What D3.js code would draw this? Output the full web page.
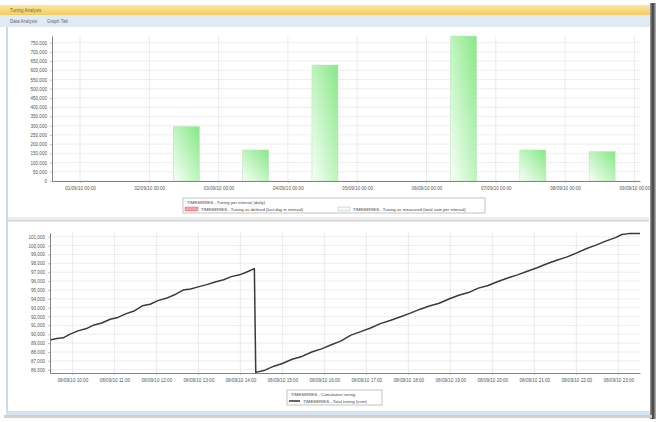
<!DOCTYPE html>
<html>
<head>
<meta charset="utf-8">
<script src="https://cdn.jsdelivr.net/npm/d3@7"></script>
<style>
  body { margin: 0; background: #fff; }
  text { font-family: "Liberation Sans", Arial, sans-serif; }
</style>
</head>
<body>
<div id="chart"></div>
<script>
// ---- top chart: totals per day ----
const barDays = ['2010-09-02', '2010-09-03', '2010-09-04', '2010-09-06', '2010-09-07', '2010-09-08']
const barValues = [295000, 168000, 629000, 786000, 168000, 159000]
const barTickDays = ['2010-09-01', '2010-09-02', '2010-09-03', '2010-09-04', '2010-09-05',
  '2010-09-06', '2010-09-07', '2010-09-08', '2010-09-09']
const barYTicks = [0, 50000, 100000, 150000, 200000, 250000, 300000, 350000, 400000,
  450000, 500000, 550000, 600000, 650000, 700000, 750000]
const barTimeRange = ['2010-08-31T14:18', '2010-09-09T01:57']
const barYMax = 786300

// ---- bottom chart: running counter ----
const lineTimes = ['09:28', '09:38', '09:47', '09:56', '10:08', '10:20', '10:31', '10:42', '10:54', '11:05',
  '11:17', '11:28', '11:40', '11:51', '12:03', '12:14', '12:26', '12:38', '12:49', '13:01',
  '13:12', '13:24', '13:36', '13:47', '13:59', '14:10', '14:20', '14:22', '14:35', '14:48',
  '15:00', '15:14', '15:28', '15:42', '15:56', '16:10', '16:24', '16:38', '16:52', '17:06',
  '17:20', '17:34', '17:48', '18:02', '18:16', '18:30', '18:44', '18:58', '19:12', '19:26',
  '19:40', '19:54', '20:08', '20:22', '20:36', '20:50', '21:04', '21:18', '21:32', '21:46',
  '22:00', '22:14', '22:28', '22:42', '22:56', '23:05', '23:15', '23:31']
const lineValues = [89350, 89520, 89600, 89980, 90380, 90640, 91050, 91270, 91690, 91900,
  92330, 92620, 93210, 93390, 93820, 94050, 94450, 94980, 95100, 95370,
  95600, 95900, 96150, 96500, 96700, 97050, 97400, 85700, 85950, 86400,
  86700, 87180, 87500, 88000, 88350, 88820, 89250, 89900, 90300, 90700,
  91200, 91550, 91950, 92350, 92800, 93180, 93500, 93980, 94400, 94700,
  95200, 95500, 95950, 96350, 96700, 97100, 97500, 97950, 98350, 98700,
  99150, 99650, 100050, 100500, 100900, 101250, 101350, 101350]
const lineDay = '2010-09-08'
const lineTickTimes = ['10:00', '11:00', '12:00', '13:00', '14:00', '15:00', '16:00',
  '17:00', '18:00', '19:00', '20:00', '21:00', '22:00', '23:00']
const lineYTicks = [86000, 87000, 88000, 89000, 90000, 91000, 92000, 93000, 94000,
  95000, 96000, 97000, 98000, 99000, 100000, 101000]
const lineTimeRange = ['09:28', '23:31']
const lineYRange = [85630, 101420]

const W = 656, H = 422
const fmtDate = d3.timeFormat('%d/%m/%y %H:%M')
const fmtNum = d3.format(',')

const svg = d3.select('#chart').append('svg')
  .attr('width', W).attr('height', H)

const defs = svg.append('defs')
const gBar = defs.append('linearGradient').attr('id', 'barFill')
  .attr('x1', 1).attr('y1', 0).attr('x2', 0).attr('y2', 1)
gBar.append('stop').attr('offset', 0).attr('stop-color', '#86e886')
gBar.append('stop').attr('offset', 0.55).attr('stop-color', '#c4f5c4')
gBar.append('stop').attr('offset', 1).attr('stop-color', '#f6fff6')

const gTitle = defs.append('linearGradient').attr('id', 'titleFill')
  .attr('x1', 0).attr('y1', 0).attr('x2', 0).attr('y2', 1)
gTitle.append('stop').attr('offset', 0).attr('stop-color', '#fbe7a4')
gTitle.append('stop').attr('offset', 1).attr('stop-color', '#f2cd5c')

const gShadow = defs.append('linearGradient').attr('id', 'shadowR')
gShadow.append('stop').attr('offset', 0).attr('stop-color', '#9a9a9a')
gShadow.append('stop').attr('offset', 0.5).attr('stop-color', '#3a3a3a')
gShadow.append('stop').attr('offset', 1).attr('stop-color', '#bdbdbd')

// window frame
svg.append('rect').attr('width', W).attr('height', H).attr('fill', '#fff')
svg.append('rect').attr('x', 0).attr('y', 5).attr('width', 651).attr('height', 10).attr('fill', 'url(#titleFill)')
svg.append('text').attr('x', 10).attr('y', 12).attr('font-size', 4.5).attr('fill', '#7a6a3a').text('Tuning Analysis')
svg.append('rect').attr('x', 0).attr('y', 15).attr('width', 651).attr('height', 12).attr('fill', '#dfeaf2')
svg.append('text').attr('x', 10).attr('y', 23).attr('font-size', 4.5).attr('fill', '#667').text('Data Analysis')
svg.append('text').attr('x', 47).attr('y', 23).attr('font-size', 4.5).attr('fill', '#667').text('Graph   Tab')
svg.append('rect').attr('x', 6).attr('y', 27).attr('width', 2).attr('height', 386).attr('fill', '#c9dbe8')
svg.append('rect').attr('x', 6).attr('y', 411).attr('width', 645).attr('height', 4).attr('fill', '#d6e4ef')
svg.append('rect').attr('x', 8).attr('y', 217).attr('width', 641).attr('height', 4).attr('fill', '#ececec')
svg.append('line').attr('x1', 8).attr('x2', 649).attr('y1', 221).attr('y2', 221).attr('stroke', '#b5b5b5').attr('stroke-width', 0.7)
svg.append('rect').attr('x', 650).attr('y', 3).attr('width', 6).attr('height', 416).attr('fill', 'url(#shadowR)')
svg.append('rect').attr('x', 4).attr('y', 415).attr('width', 648).attr('height', 3).attr('fill', '#cfcfcf')

function drawGrid(g, x, y, xTicks, yTicks, box) {
  g.append('g').selectAll('line.h').data(yTicks).enter().append('line')
    .attr('x1', box.left).attr('x2', box.right)
    .attr('y1', d => y(d)).attr('y2', d => y(d))
    .attr('stroke', '#e2e2e2').attr('stroke-width', 0.6)
  g.append('g').selectAll('line.v').data(xTicks).enter().append('line')
    .attr('x1', d => x(d)).attr('x2', d => x(d))
    .attr('y1', box.top).attr('y2', box.bottom)
    .attr('stroke', '#dcdcdc').attr('stroke-width', 0.6)
}

function drawAxes(g, x, y, xTicks, yTicks, box, yFmt) {
  const ax = g.append('g').attr('transform', 'translate(0,' + box.bottom + ')')
    .call(d3.axisBottom(x).tickValues(xTicks).tickFormat(fmtDate).tickSize(2).tickSizeOuter(0))
  const ay = g.append('g').attr('transform', 'translate(' + box.left + ',0)')
    .call(d3.axisLeft(y).tickValues(yTicks).tickFormat(yFmt).tickSize(2).tickSizeOuter(0))
  ;[ax, ay].forEach(a => {
    a.select('.domain').attr('stroke', '#777').attr('stroke-width', 0.9)
    a.selectAll('.tick line').attr('stroke', '#888').attr('stroke-width', 0.5)
    a.selectAll('text').attr('font-size', 4.6).attr('fill', '#555').attr('font-family', '"Liberation Sans", Arial, sans-serif')
  })
  ax.selectAll('text').attr('dy', '0.9em')
}

// ---- top chart ----
const topBox = { left: 52, right: 640, top: 36, bottom: 181 }
const xTop = d3.scaleTime()
  .domain(barTimeRange.map(d => new Date(d)))
  .range([topBox.left, topBox.right])
const yTop = d3.scaleLinear().domain([0, barYMax]).range([topBox.bottom, topBox.top])
const topTicks = barTickDays.map(d => new Date(d + 'T00:00'))
const gTop = svg.append('g')
drawGrid(gTop, xTop, yTop, topTicks, barYTicks, topBox)

const barData = barDays.map((d, i) => ({ day: new Date(d + 'T00:00'), value: barValues[i] }))
gTop.append('g').selectAll('rect').data(barData).enter().append('rect')
  .attr('x', d => xTop(d3.timeMinute.offset(d.day, 500)))
  .attr('width', d => xTop(d3.timeMinute.offset(d.day, 1040)) - xTop(d3.timeMinute.offset(d.day, 500)))
  .attr('y', d => yTop(d.value))
  .attr('height', d => yTop(0) - yTop(d.value))
  .attr('fill', 'url(#barFill)')
  .attr('stroke', '#b4e2b4').attr('stroke-width', 0.5)

drawAxes(gTop, xTop, yTop, topTicks, barYTicks, topBox, fmtNum)

// top legend
const lgTop = svg.append('g').attr('font-size', 4.3).attr('fill', '#444')
lgTop.append('rect').attr('x', 183).attr('y', 198).attr('width', 302).attr('height', 15)
  .attr('fill', '#fff').attr('stroke', '#999').attr('stroke-width', 0.6)
lgTop.append('text').attr('x', 187).attr('y', 203.5).text('TIMESERIES - Tuning per interval (daily)')
lgTop.append('rect').attr('x', 185).attr('y', 207).attr('width', 13).attr('height', 4)
  .attr('fill', '#f4a0a8').attr('stroke', '#e05060').attr('stroke-width', 0.4)
lgTop.append('text').attr('x', 201).attr('y', 210.8).text('TIMESERIES - Tuning as defined (last day in interval)')
lgTop.append('rect').attr('x', 338).attr('y', 207).attr('width', 12).attr('height', 4)
  .attr('fill', '#f2fbf2').attr('stroke', '#aaa').attr('stroke-width', 0.4)
lgTop.append('text').attr('x', 353).attr('y', 210.8).text('TIMESERIES - Tuning as measured (total sum per interval)')

// ---- bottom chart ----
const botBox = { left: 50, right: 640, top: 233, bottom: 373 }
const atTime = t => new Date(lineDay + 'T' + t)
const xBot = d3.scaleTime()
  .domain(lineTimeRange.map(atTime))
  .range([botBox.left, botBox.right])
const yBot = d3.scaleLinear().domain(lineYRange).range([botBox.bottom, botBox.top])
const botTicks = lineTickTimes.map(atTime)
const gBot = svg.append('g')
drawGrid(gBot, xBot, yBot, botTicks, lineYTicks, botBox)

const lineData = lineTimes.map((t, i) => ({ t: atTime(t), v: lineValues[i] }))
gBot.append('path').datum(lineData)
  .attr('d', d3.line().x(d => xBot(d.t)).y(d => yBot(d.v)))
  .attr('fill', 'none').attr('stroke', '#3a3a3a').attr('stroke-width', 1.5)
  .attr('stroke-linejoin', 'round')

drawAxes(gBot, xBot, yBot, botTicks, lineYTicks, botBox, fmtNum)

// bottom legend
const lgBot = svg.append('g').attr('font-size', 4.3).attr('fill', '#444')
lgBot.append('rect').attr('x', 287).attr('y', 390).attr('width', 95).attr('height', 15)
  .attr('fill', '#fff').attr('stroke', '#999').attr('stroke-width', 0.6)
lgBot.append('text').attr('x', 291).attr('y', 395.5).text('TIMESERIES - Cumulative tuning')
lgBot.append('line').attr('x1', 289).attr('x2', 300).attr('y1', 401).attr('y2', 401)
  .attr('stroke', '#333').attr('stroke-width', 1.5)
lgBot.append('text').attr('x', 303).attr('y', 402.8).text('TIMESERIES - Total tuning (sum)')
</script>
</body>
</html>
